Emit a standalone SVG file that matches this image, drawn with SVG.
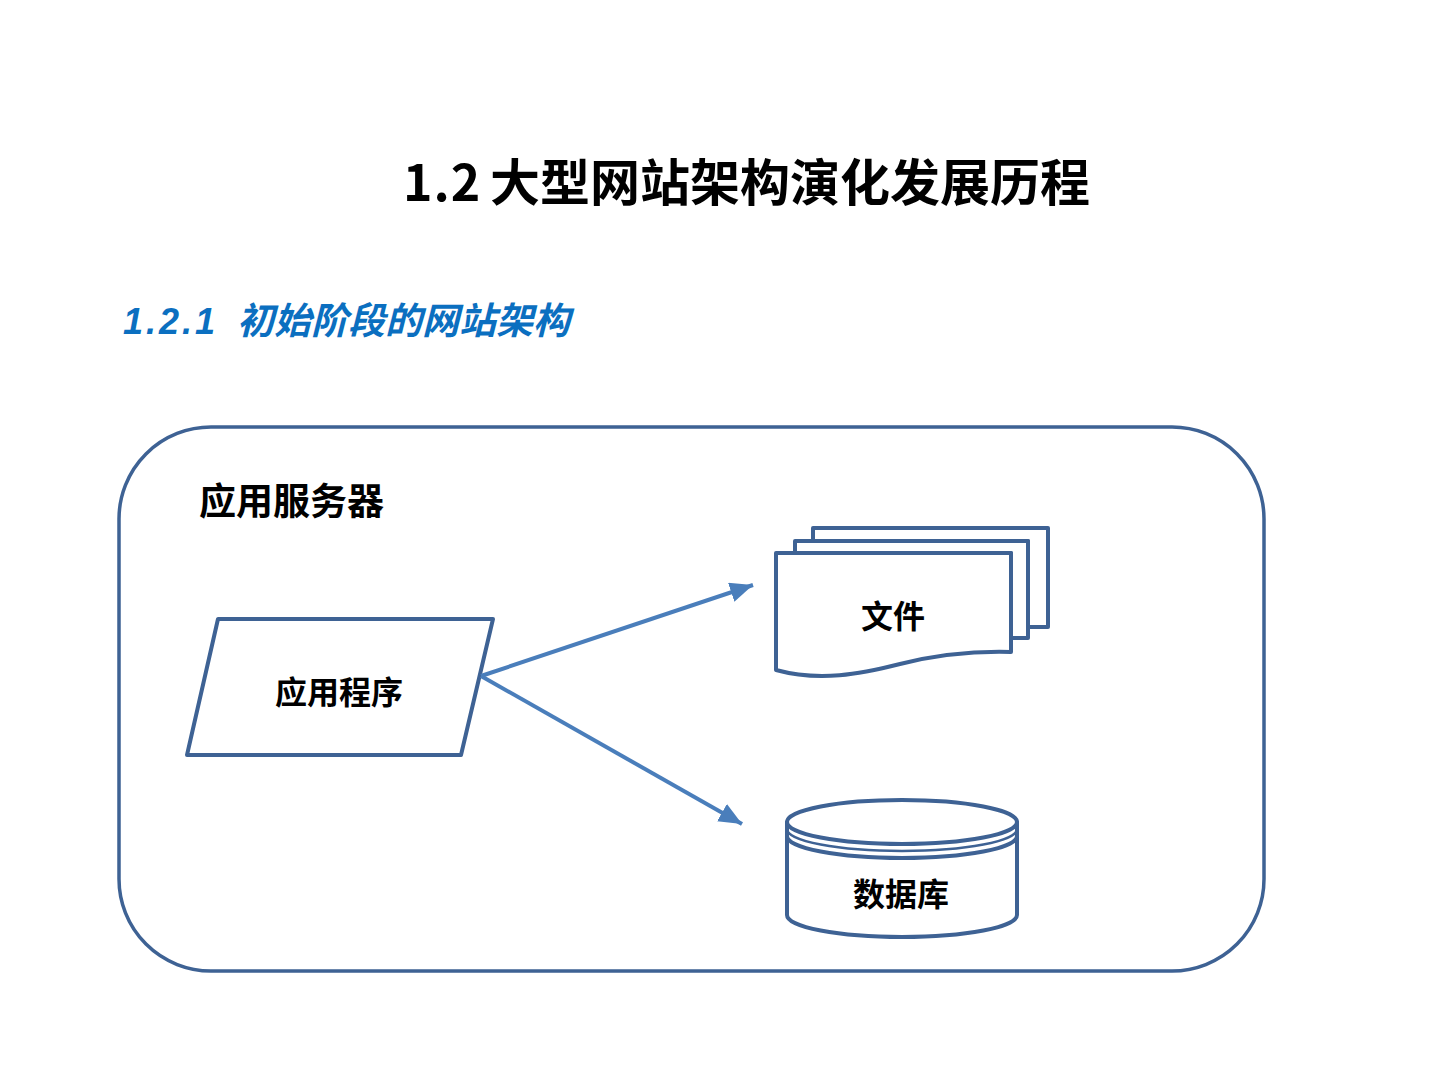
<svg xmlns="http://www.w3.org/2000/svg" width="1440" height="1080" viewBox="0 0 1440 1080">
<style>
.cjk{font-family:"Noto Sans CJK SC","Liberation Sans",sans-serif;font-weight:bold;fill:#000}
.shape{fill:#fff;stroke:#3E6294;stroke-width:4;stroke-linejoin:round}
.conn{stroke:#4A7EBB;stroke-width:4;fill:none}
.lbl{font-family:"Noto Sans CJK SC","Liberation Sans",sans-serif;font-weight:bold;font-size:32px;text-anchor:middle;dominant-baseline:central;fill:#000}
</style>
<defs>
<marker id="ah" markerUnits="userSpaceOnUse" markerWidth="26" markerHeight="22" refX="23" refY="10" orient="auto">
<path d="M0,0 L23,10 L0,20 Z" fill="#4A7EBB"/>
</marker>
</defs>
<rect width="1440" height="1080" fill="#fff"/>
<text class="cjk" font-size="50" y="201"><tspan x="403" letter-spacing="1">1.2</tspan><tspan x="490">大型网站架构演化发展历程</tspan></text>
<text font-family="'Noto Sans CJK SC','Liberation Sans',sans-serif" font-style="italic" font-weight="bold" font-size="36" fill="#0B6FC0" y="334"><tspan x="123" font-family="'Liberation Sans',sans-serif" letter-spacing="3">1.2.1</tspan><tspan x="237" font-size="37">初始阶段的网站架构</tspan></text>
<g id="server">
<rect x="119" y="427" width="1145" height="544" rx="92" ry="92" fill="none" stroke="#3E6294" stroke-width="3.5"/>
<text class="cjk" font-size="37" x="199" y="515">应用服务器</text>
</g>
<g id="app">
<path class="shape" d="M218,619 L493,619 L461,755 L187,755 Z"/>
<text class="lbl" x="339" y="690">应用程序</text>
</g>
<g id="files">
<path class="shape" d="M813,528 H1048 V627 H1028 V541 H813 Z"/>
<path class="shape" d="M795,541 H1028 V638 H1011 V553 H795 Z"/>
<path class="shape" d="M776,553 H1011 V652 C975,651 940,654 900,664 C860,674 820,682 776,670 Z"/>
<text class="lbl" x="893" y="614">文件</text>
</g>
<g id="db">
<path class="shape" d="M787,822 V915 A115,22 0 0 0 1017,915 V822 Z"/>
<path fill="none" stroke="#3E6294" stroke-width="4" d="M787,836 A115,22 0 0 0 1017,836"/>
<path fill="none" stroke="#3E6294" stroke-width="2.5" d="M787,829 A115,22 0 0 0 1017,829"/>
<ellipse class="shape" cx="902" cy="822" rx="115" ry="22"/>
<text class="lbl" x="901" y="892">数据库</text>
</g>
<g id="connectors">
<line class="conn" x1="481" y1="676" x2="753" y2="585" marker-end="url(#ah)"/>
<line class="conn" x1="481" y1="676" x2="742" y2="824" marker-end="url(#ah)"/>
</g>
</svg>
